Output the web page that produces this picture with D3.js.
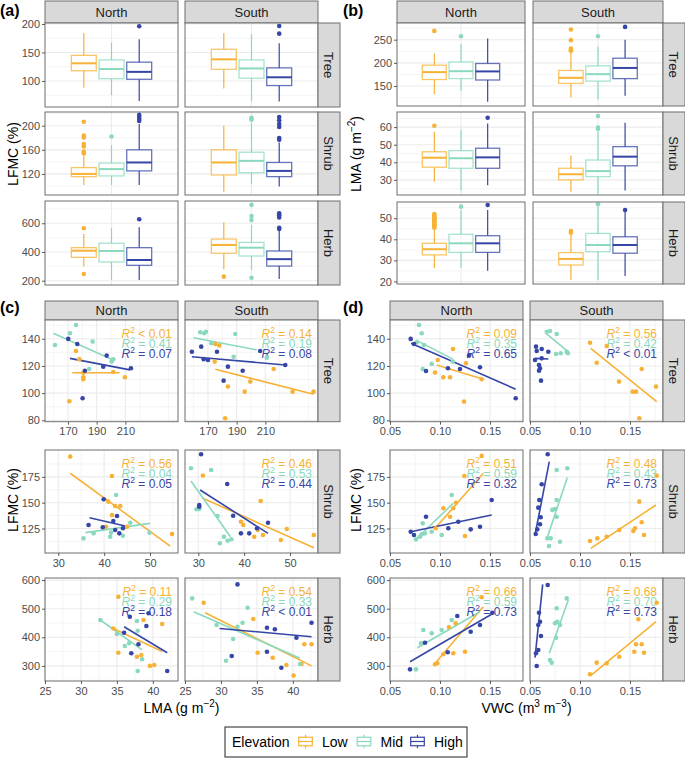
<!DOCTYPE html>
<html><head><meta charset="utf-8">
<script src="https://cdn.jsdelivr.net/npm/d3@7"></script>
<style>body{margin:0;background:#fff}</style>
</head><body>
<svg id="c" width="685" height="758" xmlns="http://www.w3.org/2000/svg"></svg>
<script>
// ---------------- DATA ----------------
const sites = ["North", "South"];
const types = ["Tree", "Shrub", "Herb"];
const elevations = ["Low", "Mid", "High"];
const elevColors = ["#F7B236", "#8AD9BE", "#3646A6"];

// box stats: [lower whisker, q1, median, q3, upper whisker], outliers
const lfmcBoxes = [
  ["Tree","North","Low",[88,118,131,145,184],[]],
  ["Tree","North","Mid",[75,104,121,137,167],[]],
  ["Tree","North","High",[65,103,116,133,173],[196]],
  ["Tree","South","Low",[87,120.5,138,155.6,184],[]],
  ["Tree","South","Mid",[64,105,122,137,182],[]],
  ["Tree","South","High",[64,92,106.5,123,166],[183,196.5]],
  ["Shrub","North","Low",[101.7,115.5,120,130.5,150],[154,157,165.5,169.5,180.5,183.8,206.7]],
  ["Shrub","North","Mid",[101.7,116.7,128,138,168],[182]],
  ["Shrub","North","High",[101.7,125,139,160,203],[208,211,214.5,218]],
  ["Shrub","South","Low",[90.5,118.3,139,160,200],[]],
  ["Shrub","South","Mid",[103,122,141.7,156,205],[210,211.5,213]],
  ["Shrub","South","High",[99,115.5,125,139,172],[176.7,179.5,198,203,209,214.5]],
  ["Herb","North","Low",[298,363,409,430,525],[247,565]],
  ["Herb","North","Mid",[205,330,407,461,565],[]],
  ["Herb","North","High",[205,307,344,430,572],[628]],
  ["Herb","South","Low",[280,391,449,490,607],[228]],
  ["Herb","South","Mid",[275,372,430,467,588],[221,623,651,728]],
  ["Herb","South","High",[212,302,350,407,548],[560,568,640,655,670]]
];

const lmaBoxes = [
  ["Tree","North","Low",[132,164,180,195,220],[269]],
  ["Tree","North","Mid",[140,166,182,202,240],[257.5]],
  ["Tree","North","High",[116,163,181.5,198.6,252.6],[]],
  ["Tree","South","Low",[125.5,155.6,167.7,183.6,222],[226,227.4,231,249,272]],
  ["Tree","South","Mid",[121,160.6,175.6,193.5,234.5],[257.5]],
  ["Tree","South","High",[129,166,189,210,250],[277.6]],
  ["Shrub","North","Low",[29,37.2,42.6,46,57.4],[60.8]],
  ["Shrub","North","Mid",[24,36.6,42.3,46.6,58.4],[]],
  ["Shrub","North","High",[27,36.6,42.8,48,62],[65.3]],
  ["Shrub","South","Low",[23.3,30,33.2,36.6,43.8],[]],
  ["Shrub","South","Mid",[22,31.8,35,41.3,57.4],[58.9,59.7,66.3]],
  ["Shrub","South","High",[23.9,38,43.2,48.9,62.5],[]],
  ["Herb","North","Low",[26.3,32.6,35.3,38.1,45],[45.5,46,46.5,47,47.5,48,48.5,49,49.5,50,50.5,51,51.5,52]],
  ["Herb","North","Mid",[26.5,33.8,38.1,42.4,53.9],[55.5]],
  ["Herb","North","High",[25.1,33.8,38.1,41.7,53.9],[56.3]],
  ["Herb","South","Low",[20.7,27.8,30.7,33.7,42],[43.1,43.9]],
  ["Herb","South","Mid",[20.7,34.1,37.3,42.8,55.5],[56.6]],
  ["Herb","South","High",[22.6,33.4,37.3,41.2,53],[53.9]]
];

// scatter points LFMC vs LMA: [site, type, elevation, LMA, LFMC]
const lmaPoints = [
  // Tree North
  ["North","Tree","Low",171,94],["North","Tree","Low",175.6,131],["North","Tree","Low",177.9,125],["North","Tree","Low",180.7,115],
  ["North","Tree","Low",180.7,111.7],["North","Tree","Low",180.7,110.2],["North","Tree","Low",201.6,115.5],["North","Tree","Low",209.7,111.7],
  ["North","Tree","Mid",161,135.4],["North","Tree","Mid",171.4,144],["North","Tree","Mid",175.6,150.1],["North","Tree","Mid",187.2,137.9],
  ["North","Tree","Mid",200.4,123.2],["North","Tree","Mid",201.6,124.9],["North","Tree","Mid",184.8,117.8],
  ["North","Tree","High",170.2,139.9],["North","Tree","High",176.5,136.2],["North","Tree","High",197,127.6],["North","Tree","High",181.8,116.5],
  ["North","Tree","High",194.6,119.5],["North","Tree","High",213.9,118.3],["North","Tree","High",180.2,96.2],
  // Tree South
  ["South","Tree","Low",175.1,136.2],["South","Tree","Low",177.9,135],["South","Tree","Low",174.7,123.2],["South","Tree","Low",183.9,104.8],
  ["South","Tree","Low",199.5,108.5],["South","Tree","Low",195.6,101.1],["South","Tree","Low",182,81.5],["South","Tree","Low",215.8,117.8],
  ["South","Tree","Low",229,101.1],["South","Tree","Low",243.6,101.1],
  ["South","Tree","Mid",164.6,144.8],["South","Tree","Mid",167.4,144],["South","Tree","Mid",168.6,145.2],["South","Tree","Mid",189,143.5],
  ["South","Tree","Mid",172.3,136.7],["South","Tree","Mid",187.9,126.8],["South","Tree","Mid",211,126.1],
  ["South","Tree","High",165.3,134.2],["South","Tree","High",158.8,130.5],["South","Tree","High",167,125],["South","Tree","High",170,124.4],
  ["South","Tree","High",176.3,130.5],["South","Tree","High",183.9,119.5],["South","Tree","High",180.9,109.2],["South","Tree","High",194.2,116.5],
  ["South","Tree","High",206.4,131],["South","Tree","High",223.9,120.7],
  // Shrub North
  ["North","Shrub","Low",32.6,194.6],["North","Shrub","Low",41.7,175.9],["North","Shrub","Low",40.9,151],["North","Shrub","Low",42.4,146.8],
  ["North","Shrub","Low",43.5,146.8],["North","Shrub","Low",41.7,138],["North","Shrub","Low",40.4,126.7],["North","Shrub","Low",45,126.7],
  ["North","Shrub","Low",54.8,119.7],
  ["North","Shrub","Mid",42.6,157.5],["North","Shrub","Mid",35.5,115.5],["North","Shrub","Mid",37.7,120.3],["North","Shrub","Mid",41.3,117],
  ["North","Shrub","Mid",41.5,121],["North","Shrub","Mid",44.1,118],["North","Shrub","Mid",45.7,130.6],["North","Shrub","Mid",49.9,121],
  ["North","Shrub","High",39.9,153.3],["North","Shrub","High",36.6,128.4],["North","Shrub","High",39.7,126.2],["North","Shrub","High",42,132.3],
  ["North","Shrub","High",42.8,137.1],["North","Shrub","High",42.4,123.5],["North","Shrub","High",43.3,120.3],["North","Shrub","High",44.1,125.2],
  // Shrub South
  ["South","Shrub","Low",31,176.2],["South","Shrub","Low",43.6,151.6],["South","Shrub","Low",39.3,131.6],["South","Shrub","Low",39.8,128.4],
  ["South","Shrub","Low",42.2,117],["South","Shrub","Low",43,123.5],["South","Shrub","Low",44.1,118.7],["South","Shrub","Low",48,113.9],
  ["South","Shrub","Low",49.3,124.5],["South","Shrub","Low",55.2,118.7],
  ["South","Shrub","Mid",28.4,183.3],["South","Shrub","Mid",32.8,181.7],["South","Shrub","Mid",29.6,143.6],["South","Shrub","Mid",30.2,144],
  ["South","Shrub","Mid",34.2,137.1],["South","Shrub","Mid",34.7,110.7],["South","Shrub","Mid",35.6,117],["South","Shrub","Mid",36.4,113.2],
  ["South","Shrub","Mid",37.2,114.6],
  ["South","Shrub","High",30.6,196.9],["South","Shrub","High",36.3,168.1],["South","Shrub","High",30.2,146.1],["South","Shrub","High",30.2,147.6],
  ["South","Shrub","High",37.6,137.4],["South","Shrub","High",39.3,120.3],["South","Shrub","High",41.1,120.3],["South","Shrub","High",42.8,125.2],
  ["South","Shrub","High",45.2,130.6],
  // Herb North
  ["North","Herb","Low",35.2,542],["North","Herb","Low",34.5,431],["North","Herb","Low",38.7,460.5],["North","Herb","Low",41.3,446.5],
  ["North","Herb","Low",35.2,346],["North","Herb","Low",37.8,332],["North","Herb","Low",38.4,338],["North","Herb","Low",39.6,300],
  ["North","Herb","Low",40.2,303],
  ["North","Herb","Mid",32.7,460.5],["North","Herb","Mid",35,411.5],["North","Herb","Mid",36.1,369.6],["North","Herb","Mid",36.7,379],
  ["North","Herb","Mid",37.8,457],["North","Herb","Mid",37.9,423],["North","Herb","Mid",38.5,323],["North","Herb","Mid",37.9,282],
  ["North","Herb","High",36.8,472],["North","Herb","High",39.4,484],["North","Herb","High",36,416],["North","Herb","High",39.1,439.5],
  ["North","Herb","High",38,375.5],["North","Herb","High",37,344],["North","Herb","High",42,282],
  // Herb South
  ["South","Herb","Low",27.6,521],["South","Herb","Low",34.5,464],["South","Herb","Low",35.1,346],["South","Herb","Low",37.2,328.7],
  ["South","Herb","Low",39.1,303],["South","Herb","Low",40.1,266],["South","Herb","Low",41.2,306.5],["South","Herb","Low",41.6,375.5],
  ["South","Herb","Low",42.6,375.5],
  ["South","Herb","Mid",26,536],["South","Herb","Mid",33.7,503.5],["South","Herb","Mid",29.4,443],["South","Herb","Mid",32.3,437],
  ["South","Herb","Mid",33,451],["South","Herb","Mid",31.7,394],["South","Herb","Mid",30.7,318],["South","Herb","Mid",41,306.5],
  ["South","Herb","High",32.3,585],["South","Herb","High",36.4,433.6],["South","Herb","High",37.5,428],["South","Herb","High",40.5,398.6],
  ["South","Herb","High",42.6,451],["South","Herb","High",31.5,334.6],["South","Herb","High",36.4,349.6],["South","Herb","High",38.4,293.7]
];

// scatter points LFMC vs VWC: [site, type, elevation, VWC, LFMC]
const vwcPoints = [
  ["North","Tree","Low",0.113,132.5],["North","Tree","Low",0.095,115.1],["North","Tree","Low",0.0977,124.4],["North","Tree","Low",0.1033,111.7],
  ["North","Tree","Low",0.11,111.7],["North","Tree","Low",0.126,122],["North","Tree","Low",0.1417,110.2],["North","Tree","Low",0.124,93.8],
  ["North","Tree","Mid",0.079,150.1],["North","Tree","Mid",0.0817,144],["North","Tree","Mid",0.0767,137.4],["North","Tree","Mid",0.084,135.4],
  ["North","Tree","Mid",0.0827,117.8],["North","Tree","Mid",0.0917,121.5],["North","Tree","Mid",0.1127,123.2],
  ["North","Tree","High",0.0707,139.9],["North","Tree","High",0.074,136.2],["North","Tree","High",0.086,116.3],["North","Tree","High",0.108,118.3],
  ["North","Tree","High",0.12,117.8],["North","Tree","High",0.129,127.6],["North","Tree","High",0.14,119],["North","Tree","High",0.1757,96.2],
  ["South","Tree","Low",0.11,137.1],["South","Tree","Low",0.1267,134.7],["South","Tree","Low",0.1167,122.4],["South","Tree","Low",0.139,108.5],
  ["South","Tree","Low",0.1617,117.8],["South","Tree","Low",0.1527,101.1],["South","Tree","Low",0.156,101.1],["South","Tree","Low",0.176,104.8],
  ["South","Tree","Low",0.1593,81.5],
  ["South","Tree","Mid",0.0667,145.2],["South","Tree","Mid",0.07,145.7],["South","Tree","Mid",0.0767,143.5],["South","Tree","Mid",0.076,128.8],
  ["South","Tree","Mid",0.0807,129.3],["South","Tree","Mid",0.0867,130.5],["South","Tree","Mid",0.088,129.3],
  ["South","Tree","High",0.056,134.2],["South","Tree","High",0.0617,132.5],["South","Tree","High",0.0567,131],["South","Tree","High",0.055,124.4],
  ["South","Tree","High",0.059,120.7],["South","Tree","High",0.06,118.3],["South","Tree","High",0.059,116.5],["South","Tree","High",0.061,109.2],
  ["South","Tree","High",0.0683,130.5],["South","Tree","High",0.0617,125.6],
  ["North","Shrub","Low",0.1417,195.3],["North","Shrub","Low",0.1243,175.9],["North","Shrub","Low",0.1033,144.6],["North","Shrub","Low",0.1133,144.6],
  ["North","Shrub","Low",0.116,150],["North","Shrub","Low",0.11,136.4],["North","Shrub","Low",0.0957,125.2],["North","Shrub","Low",0.125,117.7],
  ["North","Shrub","Mid",0.1117,157.5],["North","Shrub","Mid",0.0827,130],["North","Shrub","Mid",0.0917,121.9],["North","Shrub","Mid",0.1017,118.7],
  ["North","Shrub","Mid",0.076,114.5],["North","Shrub","Mid",0.08,117],["North","Shrub","Mid",0.0817,119.4],["North","Shrub","Mid",0.085,120.3],
  ["North","Shrub","High",0.086,136.4],["North","Shrub","High",0.0707,121.9],["North","Shrub","High",0.074,118.7],["North","Shrub","High",0.1083,125.2],
  ["North","Shrub","High",0.1183,131.6],["North","Shrub","High",0.1307,124.2],["North","Shrub","High",0.14,126.7],["North","Shrub","High",0.1517,152.6],
  ["South","Shrub","Low",0.1767,176.2],["South","Shrub","Low",0.1593,151],["South","Shrub","Low",0.11,112.9],["South","Shrub","Low",0.1173,115.5],
  ["South","Shrub","Low",0.1267,117],["South","Shrub","Low",0.1393,123.5],["South","Shrub","Low",0.1533,122.6],["South","Shrub","Low",0.155,125.2],
  ["South","Shrub","Low",0.1617,131],["South","Shrub","Low",0.164,118.7],
  ["South","Shrub","Mid",0.0767,181.7],["South","Shrub","Mid",0.0873,183.3],["South","Shrub","Mid",0.0767,152.6],["South","Shrub","Mid",0.0723,143],
  ["South","Shrub","Mid",0.075,143.9],["South","Shrub","Mid",0.0767,136.4],["South","Shrub","Mid",0.0673,115.5],["South","Shrub","Mid",0.0707,115.5],
  ["South","Shrub","Mid",0.069,108],["South","Shrub","Mid",0.08,112.2],
  ["South","Shrub","High",0.0677,196.9],["South","Shrub","High",0.0617,167.8],["South","Shrub","High",0.0593,152.6],["South","Shrub","High",0.0583,145.2],
  ["South","Shrub","High",0.0607,135.9],["South","Shrub","High",0.06,129.1],["South","Shrub","High",0.0573,124.2],["South","Shrub","High",0.0557,119.7],
  ["North","Herb","Low",0.1417,540],["North","Herb","Low",0.109,435],["North","Herb","Low",0.1157,449],["North","Herb","Low",0.0973,309],
  ["North","Herb","Low",0.095,305.6],["North","Herb","Low",0.1033,340.6],["North","Herb","Low",0.1133,344],["North","Herb","Low",0.125,349.6],
  ["North","Herb","Mid",0.1117,460.5],["North","Herb","Mid",0.0833,425.5],["North","Herb","Mid",0.0917,414],["North","Herb","Mid",0.1017,425.5],
  ["North","Herb","Mid",0.081,379],["North","Herb","Mid",0.076,288],
  ["North","Herb","High",0.1173,474.5],["North","Herb","High",0.085,381],["North","Herb","High",0.1307,419.5],["North","Herb","High",0.14,443],
  ["North","Herb","High",0.1077,347.5],["North","Herb","High",0.07,288],["North","Herb","High",0.1523,486],
  ["South","Herb","Low",0.1767,521],["South","Herb","Low",0.1583,463],["South","Herb","Low",0.1167,311.3],["South","Herb","Low",0.1267,309],
  ["South","Herb","Low",0.1393,332],["South","Herb","Low",0.1543,349.6],["South","Herb","Low",0.156,375.5],["South","Herb","Low",0.1617,375.5],
  ["South","Herb","Low",0.164,346],["South","Herb","Low",0.11,270.6],
  ["South","Herb","Mid",0.0767,501.4],["South","Herb","Mid",0.0867,536],["South","Herb","Mid",0.075,449],["South","Herb","Mid",0.0773,454.5],
  ["South","Herb","Mid",0.08,443],["South","Herb","Mid",0.076,398.6],["South","Herb","Mid",0.07,320.6],["South","Herb","Mid",0.0717,311.3],
  ["South","Herb","High",0.0677,583],["South","Herb","High",0.059,486],["South","Herb","High",0.0583,443],["South","Herb","High",0.06,454.5],
  ["South","Herb","High",0.061,404.5],["South","Herb","High",0.0583,355.6],["South","Herb","High",0.056,344],["South","Herb","High",0.0567,299.7]
];

// fitted regression line end points: [site, type, elevation, x1, y1, x2, y2]
const lmaFits = [
  ["North","Tree","Low",173,115,206,115],["North","Tree","Mid",159.8,144,201.6,124.4],["North","Tree","High",171.4,125.6,213.2,117.1],
  ["South","Tree","Low",175.1,117.6,243.6,99.2],["South","Tree","Mid",160,140.8,204,131.8],["South","Tree","High",158.8,126.8,224,120.7],
  ["North","Shrub","Low",32.6,178.5,54.4,108],["North","Shrub","Mid",35.9,121,50,130],["North","Shrub","High",36.8,135.5,44.6,127.4],
  ["South","Shrub","Low",31,154.3,55.2,106.4],["South","Shrub","Mid",28.4,171,37,117],["South","Shrub","High",30.4,162.3,45.2,120.3],
  ["North","Herb","Low",34.5,431,41.3,350],["North","Herb","Mid",32.7,460.5,38.5,356],["North","Herb","High",36,437,42,346],
  ["South","Herb","Low",27.8,486,42.6,300],["South","Herb","Mid",26.2,489.5,41,326.6],["South","Herb","High",29.8,431,42.6,402]
];
const vwcFits = [
  ["North","Tree","Low",0.0967,120.7,0.1433,110.2],["North","Tree","Mid",0.076,139,0.113,125],["North","Tree","High",0.071,136.7,0.1757,102.9],
  ["South","Tree","Low",0.1107,133,0.1767,93.8],["South","Tree","Mid",0.066,144,0.088,130.5],["South","Tree","High",0.055,125.6,0.0683,125.1],
  ["North","Shrub","Low",0.095,125,0.1433,178.5],["North","Shrub","Mid",0.075,113.9,0.1133,149.4],["North","Shrub","High",0.0707,121.9,0.1517,138],
  ["South","Shrub","Low",0.1107,105.8,0.176,147.8],["South","Shrub","Mid",0.0667,114.5,0.0873,174.3],["South","Shrub","High",0.055,118.7,0.0693,189.7],
  ["North","Herb","Low",0.0943,305.6,0.1433,507],["North","Herb","Mid",0.0773,363.6,0.14,489.5],["North","Herb","High",0.07,314.7,0.1533,484],
  ["South","Herb","Low",0.1107,266,0.176,454.5],["South","Herb","Mid",0.0693,344,0.0883,530.6],["South","Herb","High",0.055,328.7,0.0627,585]
];

// R² labels: [site, type, Low, Mid, High]
const lmaR2 = [
  ["North","Tree","< 0.01","= 0.41","= 0.07"],["South","Tree","= 0.14","= 0.19","= 0.08"],
  ["North","Shrub","= 0.56","= 0.04","= 0.05"],["South","Shrub","= 0.46","= 0.53","= 0.44"],
  ["North","Herb","= 0.11","= 0.29","= 0.18"],["South","Herb","= 0.54","= 0.33","< 0.01"]
];
const vwcR2 = [
  ["North","Tree","= 0.09","= 0.35","= 0.65"],["South","Tree","= 0.56","= 0.42","< 0.01"],
  ["North","Shrub","= 0.51","= 0.59","= 0.32"],["South","Shrub","= 0.48","= 0.43","= 0.73"],
  ["North","Herb","= 0.66","= 0.59","= 0.73"],["South","Herb","= 0.68","= 0.70","= 0.73"]
];

// axis ticks
const lfmcBoxTicks = [[100,150,200],[120,160,200],[200,400,600]];
const lmaBoxTicks = [[150,200,250],[30,40,50,60],[20,30,40,50]];
const lfmcScatterTicks = [[80,100,120,140],[125,150,175],[300,400,500,600]];
const lmaXTicks = [[170,190,210],[30,40,50],[25,30,35,40]];
const vwcXTicks = [[0.05,0.10,0.15],[0.05,0.10,0.15],[0.05,0.10,0.15]];

// ---------------- LAYOUT ----------------
const FONT = '"Liberation Sans", Arial, Helvetica, sans-serif';
const GRID = "#EBEBEB", BORDER = "#6E6E6E", STRIP = "#D9D9D9";
const svg = d3.select("#c").style("font-family", FONT);
const color = d3.scaleOrdinal().domain(elevations).range(elevColors);

const Q = {
  a:{cols:[[45,178],[185,318]], rstrip:[318,340], strip:[1,23], rows:[[23,107],[112,195],[201,285]]},
  b:{cols:[[397,525],[533,663]], rstrip:[663,685], strip:[1,23], rows:[[23,106],[112,195],[202,284]]},
  c:{cols:[[45,178],[185,318]], rstrip:[318,340], strip:[301,320], rows:[[320,421.7],[450,553],[578,681]]},
  d:{cols:[[390,523],[530,663]], rstrip:[663,685], strip:[301,320], rows:[[320,421.7],[450,553],[578,681]]}
};
const yDomA = [[54.4,201.7],[85,222.8],[170,755]];
const yDomB = [[106.9,286],[21.4,68.6],[18.8,57.7]];
const yDomCD = [[79,153.8],[101.3,201],[247.2,607.3]];
const xDomC = [[154,246.7],[27.1,56.1],[25,43.5]];
const xDomD = [[0.05,0.183],[0.05,0.183],[0.05,0.183]];

function minors(maj, dom){
  const step = maj[1]-maj[0];
  const out = [];
  let v = maj[0] - step*(Math.ceil((maj[0]-dom[0])/step)+0.5);
  for(; v <= dom[1]+1e-9; v += step){ if(v >= dom[0]-1e-9) out.push(v); }
  return out;
}

function panelBase(x0,x1,y0,y1, ys, yTicks, xs, xTicks, xCenter){
  const g = svg.append("g");
  g.append("rect").attr("x",x0).attr("y",y0).attr("width",x1-x0).attr("height",y1-y0).attr("fill","#fff");
  minors(yTicks, ys.domain()).forEach(v=>{
    g.append("line").attr("x1",x0).attr("x2",x1).attr("y1",ys(v)).attr("y2",ys(v)).attr("stroke",GRID).attr("stroke-width",0.55);
  });
  if(xs){
    minors(xTicks, xs.domain()).forEach(v=>{
      g.append("line").attr("y1",y0).attr("y2",y1).attr("x1",xs(v)).attr("x2",xs(v)).attr("stroke",GRID).attr("stroke-width",0.55);
    });
  }
  yTicks.forEach(v=>{
    g.append("line").attr("x1",x0).attr("x2",x1).attr("y1",ys(v)).attr("y2",ys(v)).attr("stroke",GRID).attr("stroke-width",1.1);
  });
  if(xs){
    xTicks.forEach(v=>{
      g.append("line").attr("y1",y0).attr("y2",y1).attr("x1",xs(v)).attr("x2",xs(v)).attr("stroke",GRID).attr("stroke-width",1.1);
    });
  } else {
    g.append("line").attr("y1",y0).attr("y2",y1).attr("x1",xCenter).attr("x2",xCenter).attr("stroke",GRID).attr("stroke-width",1.1);
  }
  return g;
}
function border(x0,x1,y0,y1){
  svg.append("rect").attr("x",x0).attr("y",y0).attr("width",x1-x0).attr("height",y1-y0)
    .attr("fill","none").attr("stroke",BORDER).attr("stroke-width",1);
}
function styleAxis(ag){
  ag.select(".domain").remove();
  ag.selectAll("line").attr("stroke","#333").attr("stroke-width",0.8);
  ag.selectAll("text").attr("fill","#4D4D4D").style("font-size","11px").style("font-family",FONT);
}
function yAxis(x0, ys, ticks){
  const ag = svg.append("g").attr("transform",`translate(${x0},0)`)
    .call(d3.axisLeft(ys).tickValues(ticks).tickSize(3).tickPadding(2).tickFormat(d3.format("d")));
  styleAxis(ag);
}
function xAxis(y1, xs, ticks, fmt){
  const ag = svg.append("g").attr("transform",`translate(0,${y1})`)
    .call(d3.axisBottom(xs).tickValues(ticks).tickSize(3).tickPadding(3).tickFormat(fmt));
  styleAxis(ag);
}
function topStrips(q){
  sites.forEach((s,ci)=>{
    const [x0,x1] = q.cols[ci];
    svg.append("rect").attr("x",x0).attr("y",q.strip[0]).attr("width",x1-x0).attr("height",q.strip[1]-q.strip[0])
      .attr("fill",STRIP).attr("stroke",BORDER).attr("stroke-width",1);
    svg.append("text").attr("x",(x0+x1)/2).attr("y",(q.strip[0]+q.strip[1])/2).attr("dy","0.36em")
      .attr("text-anchor","middle").attr("fill","#1A1A1A").style("font-size","13px").text(s);
  });
}
function rightStrip(q, y0, y1, label){
  svg.append("rect").attr("x",q.rstrip[0]).attr("y",y0).attr("width",q.rstrip[1]-q.rstrip[0]).attr("height",y1-y0)
    .attr("fill",STRIP).attr("stroke",BORDER).attr("stroke-width",1);
  const cx = (q.rstrip[0]+q.rstrip[1])/2, cy = (y0+y1)/2;
  svg.append("text").attr("transform",`translate(${cx},${cy}) rotate(90)`).attr("dy","0.36em")
    .attr("text-anchor","middle").attr("fill","#1A1A1A").style("font-size","13px").text(label);
}

function drawBoxQuadrant(q, boxes, yTicksAll, yDoms){
  topStrips(q);
  types.forEach((t,ri)=>{
    const [y0,y1] = q.rows[ri];
    const ys = d3.scaleLinear().domain(yDoms[ri]).range([y1,y0]);
    sites.forEach((s,ci)=>{
      const [x0,x1] = q.cols[ci];
      const cx = (x0+x1)/2, dw = (x1-x0)/1.2*0.75;
      const g = panelBase(x0,x1,y0,y1, ys, yTicksAll[ri], null, null, cx);
      const xb = d3.scaleBand().domain(elevations).range([cx-dw/2, cx+dw/2]).paddingInner(0.1).paddingOuter(0.05);
      boxes.filter(d=>d[0]===t && d[1]===s).forEach(d=>{
        const [lw,q1,med,q3,uw] = d[3];
        const c = color(d[2]);
        const bx = xb(d[2]), bw = xb.bandwidth(), mx = bx + bw/2;
        const bg = g.append("g");
        bg.append("line").attr("x1",mx).attr("x2",mx).attr("y1",ys(q3)).attr("y2",ys(uw)).attr("stroke",c).attr("stroke-width",1.2);
        bg.append("line").attr("x1",mx).attr("x2",mx).attr("y1",ys(q1)).attr("y2",ys(lw)).attr("stroke",c).attr("stroke-width",1.2);
        bg.append("rect").attr("x",bx).attr("width",bw).attr("y",ys(q3)).attr("height",ys(q1)-ys(q3))
          .attr("fill","#fff").attr("fill-opacity",0.6).attr("stroke",c).attr("stroke-opacity",0.75).attr("stroke-width",1.3);
        bg.append("line").attr("x1",bx).attr("x2",bx+bw).attr("y1",ys(med)).attr("y2",ys(med)).attr("stroke",c).attr("stroke-width",2);
        bg.selectAll("circle.o").data(d[4]).join("circle").attr("cx",mx).attr("cy",v=>ys(v)).attr("r",2.3).attr("fill",c);
      });
      border(x0,x1,y0,y1);
      if(ci===0) yAxis(x0, ys, yTicksAll[ri]);
    });
    rightStrip(q, y0, y1, t);
  });
}

function r2Label(x, y, val, c){
  const t = svg.append("text").attr("x",x).attr("y",y).attr("text-anchor","end").attr("fill",c).style("font-size","12px");
  t.append("tspan").attr("font-style","italic").text("R");
  t.append("tspan").attr("dy",-5).style("font-size","8.5px").text("2");
  t.append("tspan").attr("dy",5).text(" " + val);
}

function drawScatterQuadrant(q, pts, fits, r2, xDoms, xTicksAll, xFmt, yDoms, yTicksAll){
  topStrips(q);
  types.forEach((t,ri)=>{
    const [y0,y1] = q.rows[ri];
    const ys = d3.scaleLinear().domain(yDoms[ri]).range([y1,y0]);
    sites.forEach((s,ci)=>{
      const [x0,x1] = q.cols[ci];
      const xs = d3.scaleLinear().domain(xDoms[ri]).range([x0,x1]);
      const g = panelBase(x0,x1,y0,y1, ys, yTicksAll[ri], xs, xTicksAll[ri]);
      const lab = r2.find(d=>d[0]===s && d[1]===t);
      elevations.forEach((e,k)=> r2Label(x1-6, y0+18+k*10, lab[2+k], color(e)));
      fits.filter(d=>d[0]===s && d[1]===t).forEach(d=>{
        g.append("line").attr("x1",xs(d[3])).attr("y1",ys(d[4])).attr("x2",xs(d[5])).attr("y2",ys(d[6]))
          .attr("stroke",color(d[2])).attr("stroke-width",1.6);
      });
      svg.append("g").selectAll("circle").data(pts.filter(d=>d[0]===s && d[1]===t)).join("circle")
        .attr("cx",d=>xs(d[3])).attr("cy",d=>ys(d[4])).attr("r",2.3).attr("fill",d=>color(d[2]));
      border(x0,x1,y0,y1);
      if(ci===0) yAxis(x0, ys, yTicksAll[ri]);
      xAxis(y1, xs, xTicksAll[ri], xFmt);
    });
    rightStrip(q, y0, y1, t);
  });
}

drawBoxQuadrant(Q.a, lfmcBoxes, lfmcBoxTicks, yDomA);
drawBoxQuadrant(Q.b, lmaBoxes, lmaBoxTicks, yDomB);
drawScatterQuadrant(Q.c, lmaPoints, lmaFits, lmaR2, xDomC, lmaXTicks, d3.format("d"), yDomCD, lfmcScatterTicks);
drawScatterQuadrant(Q.d, vwcPoints, vwcFits, vwcR2, xDomD, vwcXTicks, d3.format(".2f"), yDomCD, lfmcScatterTicks);

// panel letters
[["(a)",0,16],["(b)",343,16],["(c)",0,313],["(d)",343,313]].forEach(([s,x,y])=>{
  svg.append("text").attr("x",x).attr("y",y).attr("font-weight","bold").attr("fill","#000").style("font-size","16px").text(s);
});

// axis titles
function yTitle(x, y, parts){
  const t = svg.append("text").attr("transform",`translate(${x},${y}) rotate(-90)`).attr("text-anchor","middle")
    .attr("dy","0.36em").attr("fill","#000").style("font-size","14px");
  parts.forEach(p=>{ const ts=t.append("tspan").text(p[0]); if(p[1]) ts.attr("dy",p[1]); if(p[2]) ts.style("font-size",p[2]); });
}
function xTitle(x, y, parts){
  const t = svg.append("text").attr("x",x).attr("y",y).attr("text-anchor","middle").attr("fill","#000").style("font-size","14px");
  parts.forEach(p=>{ const ts=t.append("tspan").text(p[0]); if(p[1]) ts.attr("dy",p[1]); if(p[2]) ts.style("font-size",p[2]); });
}
yTitle(13, 154, [["LFMC (%)"]]);
yTitle(356, 154, [["LMA (g m"],["\u22122",-6,"10px"],[")",6]]);
yTitle(13, 500, [["LFMC (%)"]]);
yTitle(356, 500, [["LFMC (%)"]]);
xTitle(181.5, 713, [["LMA (g m"],["\u22122",-6,"10px"],[")",6]]);
xTitle(526.5, 713, [["VWC (m"],["3",-6,"10px"],[" m",6],["\u22123",-6,"10px"],[")",6]]);

// legend
const lg = svg.append("g");
lg.append("rect").attr("x",225).attr("y",727).attr("width",242).attr("height",30).attr("fill","#fff").attr("stroke","#222").attr("stroke-width",1);
lg.append("text").attr("x",232).attr("y",747).attr("fill","#000").style("font-size","14px").text("Elevation");
const keyX = d3.scaleOrdinal().domain(elevations).range([297, 355.5, 409]);
elevations.forEach(e=>{
  const kx = keyX(e), c = color(e), ky = 733, ks = 17;
  lg.append("line").attr("x1",kx+ks/2).attr("x2",kx+ks/2).attr("y1",ky+ks*0.1).attr("y2",ky+ks*0.9).attr("stroke",c).attr("stroke-width",1.2);
  lg.append("rect").attr("x",kx+ks*0.1).attr("y",ky+ks*0.25).attr("width",ks*0.8).attr("height",ks*0.5)
    .attr("fill","#fff").attr("stroke",c).attr("stroke-width",1.2);
  lg.append("line").attr("x1",kx+ks*0.1).attr("x2",kx+ks*0.9).attr("y1",ky+ks/2).attr("y2",ky+ks/2).attr("stroke",c).attr("stroke-width",1.2);
  lg.append("text").attr("x",kx+ks+8).attr("y",747).attr("fill","#000").style("font-size","14px").text(e);
});
</script>
</body></html>
